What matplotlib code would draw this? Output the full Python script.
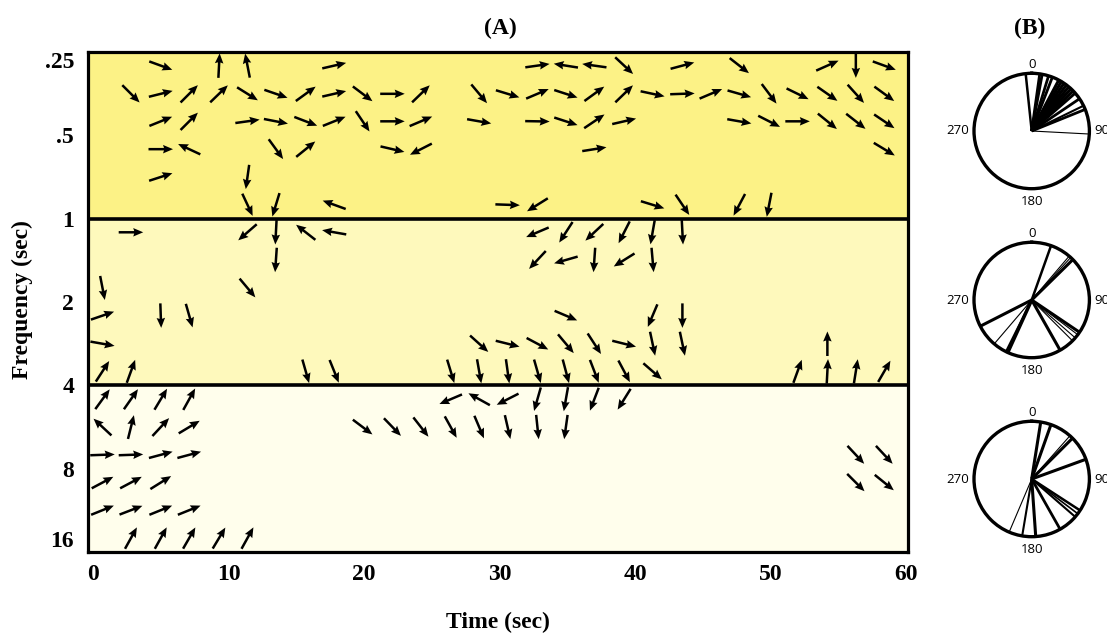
import matplotlib

matplotlib.use("Agg")

import matplotlib.pyplot as plt
import numpy as np

# ---- panel A: phase arrows (time, period, direction in degrees) ----
arrow_time = [
    # period .28
    5.0, 9.3, 11.4, 17.8, 32.8, 34.9, 37.0, 39.2, 43.5, 47.7, 54.2, 56.3, 58.4,
    # period .354
    2.8, 5.0, 7.1, 9.3, 11.4, 13.5, 15.7, 17.8, 19.9, 22.1, 24.2, 28.5, 30.6,
    32.8, 34.9, 37.0, 39.2, 41.3, 43.5, 45.6, 47.7, 49.9, 52.0, 54.2, 56.3, 58.4,
    # period .445
    5.0, 7.1, 11.4, 13.5, 15.7, 17.8, 19.9, 22.1, 24.2, 28.5, 32.8, 34.9, 37.0,
    39.2, 47.7, 49.9, 52.0, 54.2, 56.3, 58.4,
    # period .561
    5.0, 7.1, 13.5, 15.7, 22.1, 24.2, 37.0, 58.4,
    # period .707
    5.0, 11.4,
    # period .891
    11.4, 13.5, 17.8, 30.6, 32.8, 41.3, 43.5, 47.7, 49.9,
    # period 1.12
    2.8, 11.4, 13.5, 15.7, 17.8, 32.8, 34.9, 37.0, 39.2, 41.3, 43.5,
    # period 1.41
    13.5, 32.8, 34.9, 37.0, 39.2, 41.3,
    # period 1.78
    0.7, 11.4,
    # period 2.24
    0.7, 5.0, 7.1, 34.9, 41.3, 43.5,
    # period 2.83
    0.7, 28.5, 30.6, 32.8, 34.9, 37.0, 39.2, 41.3, 43.5, 54.2,
    # period 3.56
    0.7, 2.8, 15.7, 17.8, 26.4, 28.5, 30.6, 32.8, 34.9, 37.0, 39.2, 41.3,
    52.0, 54.2, 56.3, 58.4,
    # period 4.49
    0.7, 2.8, 5.0, 7.1, 26.4, 28.5, 30.6, 32.8, 34.9, 37.0, 39.2,
    # period 5.66
    0.7, 2.8, 5.0, 7.1, 19.9, 22.1, 24.2, 26.4, 28.5, 30.6, 32.8, 34.9,
    # period 7.13
    0.7, 2.8, 5.0, 7.1, 56.3, 58.4,
    # period 8.98
    0.7, 2.8, 5.0, 56.3, 58.4,
    # period 11.3
    0.7, 2.8, 5.0, 7.1,
    # period 14.25
    2.8, 5.0, 7.1, 9.3, 11.4,
]

arrow_period = (
    [0.28] * 13 + [0.354] * 26 + [0.445] * 20 + [0.561] * 8 + [0.707] * 2
    + [0.891] * 9 + [1.12] * 11 + [1.41] * 6 + [1.78] * 2 + [2.24] * 6
    + [2.83] * 10 + [3.56] * 16 + [4.49] * 11 + [5.66] * 12 + [7.13] * 6
    + [8.98] * 5 + [11.3] * 4 + [14.25] * 5
)

arrow_angle = [
    -20, 87, 101, 13, 8, 171, 172, -43, 15, -38, 24, -90, -20,
    -45, 14, 45, 44, -32, -19, 36, 13, -37, 0, 44, -50, -17,
    23, -18, 36, 44, -12, 2, 23, -16, -53, -26, -35, -48, -36,
    22, 45, 8, -11, -21, 22, -56, 0, 23, -10, -1, -18, 34,
    13, -10, -27, 0, -39, -38, -34,
    0, 155, -54, 39, -13, -153, 9, -31,
    18, -98,
    -65, -107, 160, -2, -148, -17, -56, -118, -101,
    0, -139, -93, 142, 170, -157, -123, -137, -117, -100, -87,
    -94, -133, -164, -94, -148, -85,
    -79, -50,
    19, -88, -74, -23, -113, -90,
    -10, -42, -14, -28, -50, -57, -14, -78, -78, 90,
    57, 70, -74, -68, -73, -80, -82, -74, -75, -69, -62, -41,
    70, 87, 81, 60,
    54, 55, 59, 61, -157, 151, -153, -106, -100, -111, -122,
    137, 76, 47, 31, -37, -46, -52, -61, -67, -77, -84, -98,
    2, 2, 15, 15, -47, -47,
    28, 28, 32, -45, -39,
    22, 21, 22, 22,
    61, 61, 60, 59, 61,
]

period_ticks = [0.25, 0.5, 1, 2, 4, 8, 16]
period_labels = [".25", ".5", "1", "2", "4", "8", "16"]
time_ticks = [0, 10, 20, 30, 40, 50, 60]

band_edges = [0.25, 1, 4, 16]
band_colors = ["#FCF286", "#FEF9BC", "#FFFEEC"]

# ---- panel B: rose plots (compass degrees, line width) ----
rose_short_angle = [354, 8, 10.5, 17, 21, 28, 31, 34, 37, 40, 43, 46, 49, 56, 64, 68, 93]
rose_short_width = [1.8, 2.0, 2.0, 2.0, 2.0, 2.2, 2.2, 2.2, 2.2, 2.2, 2.2, 2.2, 2.0, 2.0, 1.5, 2.0, 0.8]

rose_mid_angle = [19.6, 40.5, 42.5, 45.5, 124, 127, 131, 135, 150.5, 204.5, 206.5, 220.5, 243]
rose_mid_width = [1.8, 0.8, 0.8, 2.2, 2.2, 0.8, 0.8, 0.8, 2.2, 2.5, 1.5, 0.8, 2.2]

rose_long_angle = [9, 19.5, 41.5, 45, 70, 123, 127, 131, 150.5, 176, 189.5, 203]
rose_long_width = [2.2, 2.2, 0.8, 2.2, 2.2, 1.8, 1.2, 1.5, 2.0, 2.2, 1.5, 0.8]

rose_labels = ["0", "90", "180", "270"]

SERIF = ["Liberation Serif", "DejaVu Serif"]

fig = plt.figure(figsize=(11.07, 6.37), dpi=100)
ax = fig.add_axes((88 / 1107, 1 - 552 / 637, 820 / 1107, 500 / 637))

ax.set_yscale("log", base=2)
ax.set_ylim(16, 0.25)
ax.set_xlim(-0.37, 60.15)

for lo, hi, color in zip(band_edges[:-1], band_edges[1:], band_colors):
    ax.axhspan(lo, hi, color=color, lw=0, zorder=0)
for edge in band_edges[1:-1]:
    ax.axhline(edge, color="black", lw=2.6, zorder=3)

angles = np.radians(arrow_angle)
ax.quiver(
    arrow_time,
    arrow_period,
    np.cos(angles),
    np.sin(angles),
    angles="uv",
    pivot="middle",
    units="dots",
    scale_units="inches",
    scale=1 / 0.245,
    width=2.5,
    headwidth=3.4,
    headlength=4.0,
    headaxislength=3.6,
    color="black",
    zorder=4,
)

ax.set_yticks(period_ticks)
ax.set_yticklabels(period_labels)
ax.yaxis.set_minor_locator(plt.NullLocator())
ax.set_xticks(time_ticks)
ax.tick_params(axis="both", length=0)
ax.tick_params(axis="y", pad=10)
ax.tick_params(axis="x", pad=9)
for label in ax.get_xticklabels() + ax.get_yticklabels():
    label.set_fontfamily(SERIF)
    label.set_fontweight("bold")
    label.set_fontsize(17)
ax.get_yticklabels()[0].set_va("top")
ax.get_yticklabels()[-1].set_va("bottom")
for spine in ax.spines.values():
    spine.set_linewidth(2.3)
    spine.set_zorder(5)

text_style = dict(family=SERIF, fontweight="bold", fontsize=17, ha="center", va="center")
fig.text(500 / 1107, 1 - 28 / 637, "(A)", **text_style)
fig.text(1030 / 1107, 1 - 28 / 637, "(B)", **text_style)
fig.text(498 / 1107, 1 - 622 / 637, "Time (sec)", **text_style)
fig.text(22 / 1107, 1 - 300 / 637, "Frequency (sec)", rotation=90, **text_style)

rose_sets = [
    (rose_short_angle, rose_short_width, 131),
    (rose_mid_angle, rose_mid_width, 300),
    (rose_long_angle, rose_long_width, 479),
]
# label spots around each circle, in axes fraction (0, 90, 180, 270)
label_spots = [(0.5, 1.075), (1.11, 0.5), (0.5, -0.11), (-0.14, 0.5)]
radius = 57.7
for rose_angle, rose_width, center_y in rose_sets:
    rax = fig.add_axes(
        ((1031.7 - radius) / 1107, 1 - (center_y + radius) / 637, 2 * radius / 1107, 2 * radius / 637),
        projection="polar",
    )
    rax.set_theta_zero_location("N")
    rax.set_theta_direction(-1)
    for deg, lw in zip(rose_angle, rose_width):
        rad = np.radians(deg)
        rax.plot([rad, rad], [0, 1], color="black", lw=lw, solid_capstyle="butt")
    rax.set_ylim(0, 1)
    rax.set_yticks([])
    rax.set_xticks([])
    rax.grid(False)
    rax.spines["polar"].set_linewidth(2.4)
    rax.set_facecolor("white")
    for text, (lx, ly) in zip(rose_labels, label_spots):
        rax.text(lx, ly, text, transform=rax.transAxes, ha="center", va="center",
                 fontsize=9.5, family="Open Sans")

fig.savefig("out.png", dpi=100)
